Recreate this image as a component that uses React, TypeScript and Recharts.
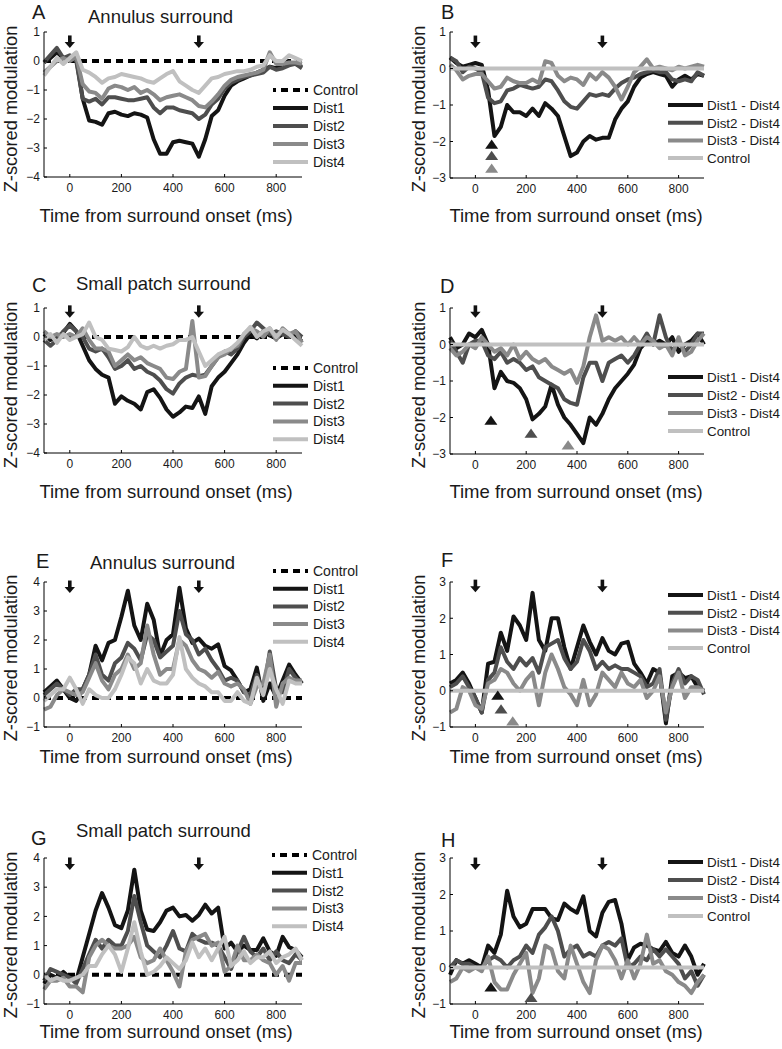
import React from 'react';
import { LineChart, Line, XAxis, YAxis, ReferenceDot, Legend } from 'recharts';

// ---------- data ----------
const TIME = [-100, -75, -50, -25, 0, 25, 50, 75, 100, 125, 150, 175, 200, 225, 250, 275, 300, 325, 350, 375, 400, 425, 450, 475, 500, 525, 550, 575, 600, 625, 650, 675, 700, 725, 750, 775, 800, 825, 850, 875, 900];
const CONTROL = [0, 0, 0, 0, 0, 0, 0, 0, 0, 0, 0, 0, 0, 0, 0, 0, 0, 0, 0, 0, 0, 0, 0, 0, 0, 0, 0, 0, 0, 0, 0, 0, 0, 0, 0, 0, 0, 0, 0, 0, 0];

const A_DIST1 = [-0.05, 0.1, 0.3, 0.1, 0.15, 0.1, -1.3, -2.05, -2.1, -2.2, -1.8, -1.75, -1.85, -1.9, -1.8, -1.85, -1.95, -2.7, -3.2, -3.2, -2.8, -2.75, -2.8, -2.85, -3.3, -2.7, -1.9, -1.7, -1.2, -0.85, -0.7, -0.6, -0.5, -0.4, -0.3, -0.2, -0.25, -0.1, -0.05, -0.1, -0.2];
const A_DIST2 = [-0.05, 0.2, 0.45, 0.1, 0.2, 0.0, -1.3, -1.4, -1.3, -1.5, -1.25, -1.25, -1.3, -1.35, -1.35, -1.3, -1.25, -1.6, -1.8, -1.6, -1.6, -1.7, -1.75, -1.8, -2.0, -1.85, -1.5, -1.3, -0.95, -0.75, -0.65, -0.55, -0.5, -0.45, -0.4, -0.2, -0.3, -0.25, -0.15, -0.1, -0.25];
const A_DIST3 = [-0.4, -0.2, 0.0, 0.1, 0.0, 0.15, -0.8, -1.05, -1.1, -1.3, -0.95, -0.85, -0.9, -1.0, -0.9, -1.1, -1.0, -1.15, -1.35, -1.25, -1.2, -1.15, -1.25, -1.35, -1.55, -1.6, -1.4, -1.15, -0.85, -0.65, -0.55, -0.5, -0.45, -0.4, -0.3, 0.3, -0.1, -0.1, -0.05, -0.05, -0.1];
const A_DIST4 = [-0.5, -0.2, 0.1, -0.1, 0.1, 0.3, -0.3, -0.4, -0.55, -0.75, -0.6, -0.55, -0.45, -0.5, -0.55, -0.6, -0.7, -0.75, -0.6, -0.45, -0.35, -0.7, -0.85, -1.0, -1.1, -0.85, -0.6, -0.55, -0.45, -0.4, -0.35, -0.35, -0.3, -0.2, -0.15, 0.2, 0.0, 0.0, 0.2, 0.1, 0.0];

const B_D1 = [0.3, 0.15, 0.05, 0.1, 0.15, 0.1, -0.6, -1.85, -1.6, -1.0, -1.2, -1.2, -1.3, -1.1, -1.3, -0.95, -1.1, -1.3, -1.85, -2.4, -2.3, -2.0, -1.85, -1.95, -1.9, -1.9, -1.4, -1.1, -0.9, -0.5, -0.25, -0.15, -0.1, -0.15, -0.2, -0.5, -0.3, -0.2, -0.3, -0.15, -0.2];
const B_D2 = [0.3, 0.2, -0.1, 0.05, 0.0, -0.1, -0.8, -0.95, -0.9, -0.6, -0.55, -0.45, -0.5, -0.55, -0.5, -0.3, -0.35, -0.6, -0.9, -1.05, -1.1, -0.9, -0.7, -0.75, -0.7, -0.75, -0.55, -0.4, -0.3, -0.25, -0.15, -0.1, -0.05, -0.1, -0.1, -0.3, -0.35, -0.3, -0.35, -0.1, -0.2];
const B_D3 = [0.1, -0.05, -0.3, -0.2, -0.15, -0.15, -0.35, -0.55, -0.5, -0.25, -0.35, -0.4, -0.4, -0.3, -0.4, 0.2, 0.15, -0.2, -0.35, -0.25, -0.3, -0.45, -0.15, -0.3, -0.1, -0.25, -0.5, -0.85, -0.5, -0.1, 0.05, 0.25, 0.0, 0.05, 0.0, -0.05, 0.05, 0.0, 0.05, 0.1, 0.05];

const C_DIST1 = [0.1, -0.1, 0.0, 0.15, 0.45, 0.2, -0.3, -0.8, -1.1, -1.3, -1.4, -2.3, -2.05, -2.2, -2.3, -2.5, -1.9, -1.8, -2.1, -2.5, -2.75, -2.6, -2.4, -2.45, -2.05, -2.65, -1.7, -1.4, -1.2, -0.9, -0.6, -0.2, 0.1, -0.05, 0.2, 0.05, -0.05, 0.1, 0.1, 0.0, -0.15];
const C_DIST2 = [-0.1, -0.3, -0.1, 0.2, 0.4, 0.2, 0.0, -0.4, -0.5, -0.4, -0.7, -1.1, -1.0, -0.8, -1.1, -1.0, -1.2, -1.3, -1.5, -1.8, -1.95, -1.6, -1.4, -1.3, -1.35, -1.3, -1.0, -0.7, -0.5, -0.6, -0.4, 0.0, 0.2, 0.5, 0.3, 0.1, 0.2, 0.1, 0.0, 0.2, 0.0];
const C_DIST3 = [0.2, 0.0, 0.1, 0.0, 0.1, 0.0, 0.3, -0.1, -0.4, -0.4, -0.5, -1.0, -0.8, -0.6, -0.8, -0.7, -0.9, -1.0, -1.1, -1.4, -1.45, -1.2, -1.1, 0.55, -1.4, -1.35, -1.0, -0.7, -0.6, -0.4, -0.3, 0.1, 0.3, 0.2, 0.0, 0.3, -0.1, 0.3, 0.1, 0.2, -0.2];
const C_DIST4 = [-0.1, 0.1, -0.2, 0.1, -0.1, 0.0, 0.1, 0.5, 0.0, -0.1, -0.4, -0.45, -0.5, -0.35, 0.0, -0.3, -0.4, -0.3, -0.4, -0.3, -0.25, -0.1, -0.1, 0.0, -0.5, -1.0, -0.8, -0.6, -0.5, -0.4, -0.2, 0.1, 0.35, 0.0, 0.2, 0.3, 0.0, 0.25, 0.1, -0.1, -0.3];

const D_D1 = [0.2, -0.1, 0.0, 0.3, 0.2, 0.4, 0.0, -1.2, -0.75, -1.0, -1.05, -1.2, -1.5, -2.05, -1.9, -1.7, -1.1, -1.65, -2.0, -2.2, -2.45, -2.7, -2.0, -2.2, -1.9, -1.5, -1.2, -1.0, -0.8, -0.55, -0.1, 0.1, 0.0, 0.1, 0.0, 0.2, -0.2, 0.0, 0.1, 0.3, 0.0];
const D_D2 = [0.1, -0.2, -0.5, 0.0, 0.1, 0.1, -0.3, -0.4, -0.2, -0.5, -0.4, -0.5, -0.7, -0.6, -0.9, -1.0, -1.1, -1.2, -1.5, -1.6, -1.65, -0.9, -0.5, -0.5, -1.0, -0.5, -0.4, -0.3, -0.5, -0.3, 0.0, 0.3, 0.0, 0.8, 0.2, -0.2, 0.1, -0.2, 0.0, 0.3, 0.3];
const D_D3 = [-0.1, -0.3, -0.2, 0.0, -0.1, 0.2, 0.0, -0.2, -0.1, -0.3, 0.0, -0.4, -0.2, -0.4, -0.5, -0.4, -0.6, -0.7, -0.8, -0.7, -1.05, -0.6, 0.2, 0.8, 0.1, 0.2, 0.1, 0.2, 0.0, 0.2, 0.0, 0.2, 0.1, -0.1, 0.0, -0.3, 0.2, -0.3, -0.2, 0.1, 0.3];

const E_DIST1 = [0.2, 0.4, 0.6, 0.3, 0.0, -0.1, 0.3, 0.8, 1.8, 1.3, 1.9, 2.0, 2.8, 3.7, 2.5, 2.0, 3.25, 2.7, 1.45, 2.0, 2.2, 3.8, 2.4, 1.9, 2.05, 1.8, 1.7, 1.85, 1.1, 0.95, 0.6, 0.2, 0.3, 1.05, -0.1, 0.5, 0.05, 0.6, 1.15, 0.8, 0.5];
const E_DIST2 = [0.1, 0.3, 0.5, 0.3, 0.1, 0.3, 0.3, 0.8, 1.5, 0.8, 0.6, 1.2, 1.4, 1.9, 1.7, 1.3, 2.2, 2.0, 1.4, 1.6, 1.8, 3.0, 2.2, 2.0, 1.5, 1.7, 1.3, 1.0, 0.6, 0.7, 0.6, 0.2, 0.1, 0.8, 0.2, 1.6, 0.3, 0.2, 1.0, 0.7, 0.5];
const E_DIST3 = [-0.4, -0.3, 0.1, 0.3, 0.2, 0.1, 0.2, 0.7, 1.2, 0.6, 0.3, 0.8, 1.0, 1.5, 1.0, 1.2, 2.5, 1.5, 0.8, 1.0, 1.0, 2.0, 1.8, 1.3, 1.0, 0.9, 0.7, 0.9, 0.5, 0.4, 0.5, 0.3, -0.2, 0.4, 0.5, 1.5, -0.3, 0.5, 0.7, 0.6, 0.6];
const E_DIST4 = [-0.1, 0.1, 0.3, 0.3, 0.7, 0.3, -0.2, 0.3, 0.1, 0.0, 0.0, 0.3, 0.8, 1.4, 1.2, 0.5, 1.0, 0.6, 0.5, 0.5, 0.8, 2.1, 1.0, 0.7, 0.5, 0.4, 0.2, 0.2, -0.1, -0.1, 0.2, -0.1, -0.2, 0.7, 0.1, 1.0, 0.3, -0.2, 0.6, 0.5, 0.5];

const F_D1 = [0.2, 0.3, 0.5, 0.2, -0.2, -0.6, 0.75, 0.8, 1.6, 1.1, 2.05, 1.8, 1.4, 2.7, 1.4, 1.1, 2.0, 2.0, 1.2, 0.6, 1.2, 1.8, 1.35, 1.0, 1.45, 1.1, 1.0, 1.3, 1.35, 0.75, 0.5, 0.2, 0.6, 0.5, -0.9, 0.4, 0.5, 0.35, 0.4, 0.1, 0.0];
const F_D2 = [0.1, 0.2, 0.4, 0.1, -0.2, -0.6, 0.3, 0.5, 1.2, 0.8, 0.6, 0.9, 0.7, 0.9, 0.5, 1.2, 1.3, 1.4, 0.9, 0.6, 0.8, 1.4, 1.1, 0.6, 0.8, 0.6, 0.7, 0.6, 0.6, 0.5, 0.4, 0.1, 0.2, 0.6, -0.8, 0.2, 0.6, 0.2, 0.4, 0.3, -0.1];
const F_D3 = [-0.6, -0.5, 0.1, 0.0, -0.4, -0.5, 0.2, 0.3, 0.6, 0.5, 0.2, 0.0, 0.3, 0.5, -0.4, 0.5, 1.0, 0.6, 0.1, -0.1, -0.4, 0.3, -0.4, -0.1, 0.5, 0.3, 0.1, 0.5, 0.2, 0.1, 0.3, -0.2, 0.0, 0.4, -0.6, 0.1, 0.5, -0.2, 0.1, 0.1, 0.0];

const G_DIST1 = [-0.3, 0.0, -0.1, 0.1, -0.1, -0.2, 0.6, 1.4, 2.2, 2.8, 2.3, 1.7, 1.6, 2.2, 3.6, 2.2, 1.55, 1.5, 1.8, 2.2, 2.3, 2.0, 2.05, 1.85, 2.05, 2.4, 2.1, 2.3, 0.9, 1.1, 0.8, 1.0, 0.85, 0.85, 1.25, 0.8, 0.65, 1.3, 0.95, 0.85, 0.6];
const G_DIST2 = [-0.2, 0.2, 0.1, 0.0, -0.1, -0.3, 0.2, 0.7, 1.2, 0.9, 1.2, 1.0, 1.0, 1.5, 2.7, 1.8, 1.0, 0.8, 0.6, 1.0, 1.5, 0.9, 0.8, 1.4, 1.2, 1.1, 1.1, 1.0, 0.6, 0.2, 0.8, 1.3, 0.8, 0.6, 0.9, 0.5, 0.8, 0.5, 0.4, 0.7, 0.5];
const G_DIST3 = [-0.5, -0.2, -0.2, -0.1, -0.4, -0.4, -0.6, 0.6, 1.0, 1.2, 1.0, 0.9, 0.9, 1.0, 1.3, 0.6, 0.4, 0.5, 0.9, 0.5, 0.1, -0.4, 0.8, 1.2, 1.3, 1.4, 1.0, 1.1, 0.1, 0.3, 1.0, 0.5, 0.5, 0.7, 0.5, 0.4, 0.0, 0.3, -0.2, 0.4, 0.4];
const G_DIST4 = [0.0, -0.2, -0.1, -0.2, -0.2, -0.1, 0.0, 0.3, 0.3, 0.7, 1.0, 0.7, 0.1, 0.9, 1.8, 0.8, 0.0, 0.1, 0.3, 0.6, 0.4, 0.2, 0.5, 1.1, 0.6, 0.9, 0.5, 0.9, 1.3, 0.3, 0.5, 0.8, 0.4, 0.6, 0.6, 0.8, 0.4, 0.6, 0.7, 0.9, 0.5];

const H_D1 = [-0.2, 0.2, 0.1, 0.2, 0.1, 0.0, 0.6, 0.4, 0.9, 2.1, 1.4, 1.1, 1.2, 1.6, 1.6, 1.6, 1.35, 1.3, 1.75, 1.6, 1.5, 1.95, 1.0, 0.85, 1.5, 1.8, 1.85, 1.2, 0.2, 0.55, 0.65, 0.6, 0.5, 0.45, 0.7, 0.4, 0.3, 0.6, 0.3, -0.2, 0.1];
const H_D2 = [0.0, 0.2, 0.1, 0.1, 0.0, 0.0, 0.2, 0.3, 0.2, 0.0, 0.2, 0.3, 0.6, 0.4, 0.9, 1.1, 1.4, 1.0, 0.3, 0.5, 0.6, 0.3, 0.4, 0.3, 0.6, 0.7, 0.6, 0.8, 0.0, 0.1, 0.3, 0.2, 0.5, 0.3, 0.5, 0.3, 0.1, -0.3, -0.1, -0.5, -0.2];
const H_D3 = [-0.4, -0.3, 0.0, -0.1, 0.0, -0.1, 0.3, -0.4, -0.6, -0.6, -0.2, 0.1, 0.4, -0.7, -0.3, 0.6, 0.5, -0.1, -0.3, 0.6, 0.1, -0.4, -0.7, 0.2, 0.6, 0.5, 0.2, -0.3, 0.2, -0.3, 0.1, 0.9, 0.1, 0.2, -0.1, -0.2, -0.4, -0.5, -0.7, -0.4, -0.2];

const X_TICKS = [0, 200, 400, 600, 800];
const Y_TICKS_NEG4 = [-4, -3, -2, -1, 0, 1];
const Y_TICKS_NEG3 = [-3, -2, -1, 0, 1];
const Y_TICKS_POS4 = [-1, 0, 1, 2, 3, 4];
const Y_TICKS_POS3 = [-1, 0, 1, 2, 3];

const ARROW_TIMES = [0, 500];
const NAMES_ABS = ['Control', 'Dist1', 'Dist2', 'Dist3', 'Dist4'];
const NAMES_DIFF = ['Dist1 - Dist4', 'Dist2 - Dist4', 'Dist3 - Dist4', 'Control'];

// markers: [time, value]
const B_MARKS = [[64, -2.07], [64, -2.38], [64, -2.73]];
const D_MARKS = [[61, -2.07], [219, -2.43], [365, -2.75]];
const F_MARKS = [[88, -0.12], [101, -0.5], [147, -0.83]];
const H_MARKS = [[61, -0.53], [219, -0.82]];

// ---------- styles ----------
const FONT = '"Liberation Sans", Arial, Helvetica, sans-serif';
const K1 = '#141414';
const K2 = '#4e4e4e';
const K3 = '#8a8a8a';
const K4 = '#c0c0c0';
const TEXT = '#1a1a1a';

type Series = { key: string; name: string; values: number[]; color: string; dash?: string };
type Panel = {
  id: string;
  side: 'L' | 'R';
  left: number;
  top: number;
  w: number;
  h: number;
  domain: [number, number];
  yTicks: number[];
  series: Series[];
  arrowY: number;
  marks: number[][];
  markColors: string[];
  legend: { x: number; y: number; dy: number; fs: number; tx: number };
};

const absSeries = (c: number[], d1: number[], d2: number[], d3: number[], d4: number[]): Series[] => [
  { key: 'c', name: NAMES_ABS[0], values: c, color: '#000', dash: '7 5' },
  { key: 'd1', name: NAMES_ABS[1], values: d1, color: K1 },
  { key: 'd2', name: NAMES_ABS[2], values: d2, color: K2 },
  { key: 'd3', name: NAMES_ABS[3], values: d3, color: K3 },
  { key: 'd4', name: NAMES_ABS[4], values: d4, color: K4 },
];
const diffSeries = (d1: number[], d2: number[], d3: number[], c: number[]): Series[] => [
  { key: 'd1', name: NAMES_DIFF[0], values: d1, color: K1 },
  { key: 'd2', name: NAMES_DIFF[1], values: d2, color: K2 },
  { key: 'd3', name: NAMES_DIFF[2], values: d3, color: K3 },
  { key: 'c', name: NAMES_DIFF[3], values: c, color: K4 },
];

const PANELS: Panel[] = [
  { id: 'A', side: 'L', left: 44, top: 32, w: 258, h: 145, domain: [-4, 1], yTicks: Y_TICKS_NEG4, series: absSeries(CONTROL, A_DIST1, A_DIST2, A_DIST3, A_DIST4), arrowY: 0.45, marks: [], markColors: [], legend: { x: 273, y: 90, dy: 18, fs: 14, tx: 40 } },
  { id: 'B', side: 'R', left: 450, top: 32, w: 254, h: 146, domain: [-3, 1], yTicks: Y_TICKS_NEG3, series: diffSeries(B_D1, B_D2, B_D3, CONTROL), arrowY: 0.56, marks: B_MARKS, markColors: [K1, K2, K3], legend: { x: 668, y: 105, dy: 17.7, fs: 13.4, tx: 39 } },
  { id: 'C', side: 'L', left: 44, top: 308, w: 258, h: 145, domain: [-4, 1], yTicks: Y_TICKS_NEG4, series: absSeries(CONTROL, C_DIST1, C_DIST2, C_DIST3, C_DIST4), arrowY: 0.66, marks: [], markColors: [], legend: { x: 273, y: 368, dy: 17.8, fs: 14, tx: 40 } },
  { id: 'D', side: 'R', left: 450, top: 308, w: 254, h: 146, domain: [-3, 1], yTicks: Y_TICKS_NEG3, series: diffSeries(D_D1, D_D2, D_D3, CONTROL), arrowY: 0.73, marks: D_MARKS, markColors: [K1, K2, K3], legend: { x: 668, y: 377, dy: 18, fs: 13.4, tx: 39 } },
  { id: 'E', side: 'L', left: 44, top: 582, w: 258, h: 145, domain: [-1, 4], yTicks: Y_TICKS_POS4, series: absSeries(CONTROL, E_DIST1, E_DIST2, E_DIST3, E_DIST4), arrowY: 3.62, marks: [], markColors: [], legend: { x: 273, y: 571, dy: 17.7, fs: 14, tx: 40 } },
  { id: 'F', side: 'R', left: 450, top: 582, w: 254, h: 145, domain: [-1, 3], yTicks: Y_TICKS_POS3, series: diffSeries(F_D1, F_D2, F_D3, CONTROL), arrowY: 2.72, marks: F_MARKS, markColors: [K1, K2, K3], legend: { x: 668, y: 595, dy: 17.7, fs: 13.4, tx: 39 } },
  { id: 'G', side: 'L', left: 44, top: 858, w: 258, h: 146, domain: [-1, 4], yTicks: Y_TICKS_POS4, series: absSeries(CONTROL, G_DIST1, G_DIST2, G_DIST3, G_DIST4), arrowY: 3.59, marks: [], markColors: [], legend: { x: 272, y: 855, dy: 17.8, fs: 14, tx: 40 } },
  { id: 'H', side: 'R', left: 450, top: 858, w: 254, h: 146, domain: [-1, 3], yTicks: Y_TICKS_POS3, series: diffSeries(H_D1, H_D2, H_D3, CONTROL), arrowY: 2.67, marks: H_MARKS, markColors: [K1, K2], legend: { x: 668, y: 862, dy: 18, fs: 13.4, tx: 39 } },
];

// ---------- text placement ----------
const LETTERS = [
  { t: 'A', x: 32, y: 19 }, { t: 'B', x: 441, y: 19 },
  { t: 'C', x: 32, y: 292 }, { t: 'D', x: 440, y: 293 },
  { t: 'E', x: 36, y: 568 }, { t: 'F', x: 441, y: 567 },
  { t: 'G', x: 31, y: 845 }, { t: 'H', x: 441, y: 847 },
];
const TITLES = [
  { t: 'Annulus surround', x: 88, y: 23 },
  { t: 'Small patch surround', x: 76, y: 290 },
  { t: 'Annulus surround', x: 90, y: 569 },
  { t: 'Small patch surround', x: 76, y: 837 },
];
const X_LABEL = 'Time from surround onset (ms)';
const Y_LABEL = 'Z-scored modulation';
const X_LABEL_Y = [222, 498, 763, 1038];
const Y_LABEL_Y = [109, 385, 658, 935];

const fmt = (v: number) => String(v).replace('-', '\u2212');

const arrowShape = (props: any) => {
  const { cx, cy } = props;
  if (cx == null || cy == null) return <g />;
  return (
    <g>
      <rect x={cx - 1.8} y={cy - 12.5} width={3.6} height={7.5} fill="#111" />
      <polygon points={`${cx - 5.2},${cy - 6} ${cx + 5.2},${cy - 6} ${cx},${cy}`} fill="#111" />
    </g>
  );
};

const triShape = (color: string) => (props: any) => {
  const { cx, cy } = props;
  if (cx == null || cy == null) return <g />;
  return <polygon points={`${cx - 6.5},${cy + 4.6} ${cx + 6.5},${cy + 4.6} ${cx},${cy - 4.6}`} fill={color} />;
};

function LegendBox({ items, dy, fs, tx }: { items: Series[]; dy: number; fs: number; tx: number }) {
  const h = items.length * dy + 6;
  return (
    <svg width={112} height={h} style={{ display: 'block', overflow: 'visible' }}>
      {items.map((s, i) => {
        const cy = 9 + i * dy;
        return (
          <g key={s.key}>
            <line x1={0} x2={35} y1={cy} y2={cy} stroke={s.color} strokeWidth={4} strokeDasharray={s.dash} strokeDashoffset={s.dash ? 4 : 0} />
            <text x={tx} y={cy + 5} fontSize={fs} fontFamily={FONT} fill={TEXT}>{s.name}</text>
          </g>
        );
      })}
    </svg>
  );
}

const YW = 40;
const MT = 10;
const XH = 30;

function PanelChart({ p }: { p: Panel }) {
  const data = TIME.map((t, i) => {
    const row: any = { t };
    p.series.forEach((s) => { row[s.key] = s.values[i]; });
    return row;
  });
  const chartLeft = p.left - YW;
  const chartTop = p.top - MT;
  const W = p.side === 'L' ? 391 - chartLeft : 782 - chartLeft;
  const H = MT + p.h + XH;
  const tick = { fontSize: 12, fill: TEXT, fontFamily: FONT };
  return (
    <div style={{ position: 'absolute', left: chartLeft, top: chartTop }}>
      <LineChart width={W} height={H} data={data} margin={{ top: MT, right: W - YW - p.w, bottom: 0, left: 0 }}>
        <XAxis dataKey="t" type="number" domain={[-100, 900]} ticks={X_TICKS} interval={0} height={XH}
          tickSize={-3} tickMargin={9} axisLine={{ stroke: '#000', strokeWidth: 1 }} tickLine={{ stroke: '#000' }} tick={tick} tickFormatter={fmt} />
        <YAxis type="number" domain={p.domain} ticks={p.yTicks} interval={0} width={YW}
          tickSize={-3} tickMargin={7} axisLine={{ stroke: '#000', strokeWidth: 1 }} tickLine={{ stroke: '#000' }} tick={tick} tickFormatter={fmt} />
        {p.series.map((s) => (
          <Line key={s.key} dataKey={s.key} name={s.name} type="linear" stroke={s.color} strokeWidth={4}
            strokeDasharray={s.dash} strokeLinejoin="round" dot={false} activeDot={false} isAnimationActive={false} />
        ))}
        {ARROW_TIMES.map((t) => (
          <ReferenceDot key={'arr' + t} x={t} y={p.arrowY} r={6} shape={arrowShape} ifOverflow="visible" />
        ))}
        {p.marks.map((m, i) => (
          <ReferenceDot key={'m' + i} x={m[0]} y={m[1]} r={6} shape={triShape(p.markColors[i])} ifOverflow="visible" />
        ))}
        <Legend layout="vertical" align="center" verticalAlign="middle"
          wrapperStyle={{ left: p.legend.x - chartLeft, top: p.legend.y - 9 - chartTop, width: 112 }}
          content={() => <LegendBox items={p.series} dy={p.legend.dy} fs={p.legend.fs} tx={p.legend.tx} />} />
      </LineChart>
    </div>
  );
}

export default function App() {
  return (
    <div style={{ position: 'absolute', left: 0, top: 0, width: 782, height: 1049, background: '#fff', overflow: 'hidden', fontFamily: FONT }}>
      {PANELS.map((p) => <PanelChart key={p.id} p={p} />)}
      <svg width={782} height={1049} style={{ position: 'absolute', left: 0, top: 0, pointerEvents: 'none' }}>
        {LETTERS.map((l) => (
          <text key={l.t} x={l.x} y={l.y} fontSize={20} fontFamily={FONT} fill={TEXT}>{l.t}</text>
        ))}
        {TITLES.map((t, i) => (
          <text key={i} x={t.x} y={t.y} fontSize={18.5} fontFamily={FONT} fill={TEXT}>{t.t}</text>
        ))}
        {X_LABEL_Y.map((y, i) => (
          <g key={'xl' + i}>
            <text x={166} y={y} fontSize={18.5} fontFamily={FONT} fill={TEXT} textAnchor="middle">{X_LABEL}</text>
            <text x={576} y={y} fontSize={18.5} fontFamily={FONT} fill={TEXT} textAnchor="middle">{X_LABEL}</text>
          </g>
        ))}
        {Y_LABEL_Y.map((y, i) => (
          <g key={'yl' + i}>
            <text transform={`translate(17,${y}) rotate(-90)`} fontSize={18.3} fontFamily={FONT} fill={TEXT} textAnchor="middle">{Y_LABEL}</text>
            <text transform={`translate(425,${y}) rotate(-90)`} fontSize={18.3} fontFamily={FONT} fill={TEXT} textAnchor="middle">{Y_LABEL}</text>
          </g>
        ))}
      </svg>
    </div>
  );
}
